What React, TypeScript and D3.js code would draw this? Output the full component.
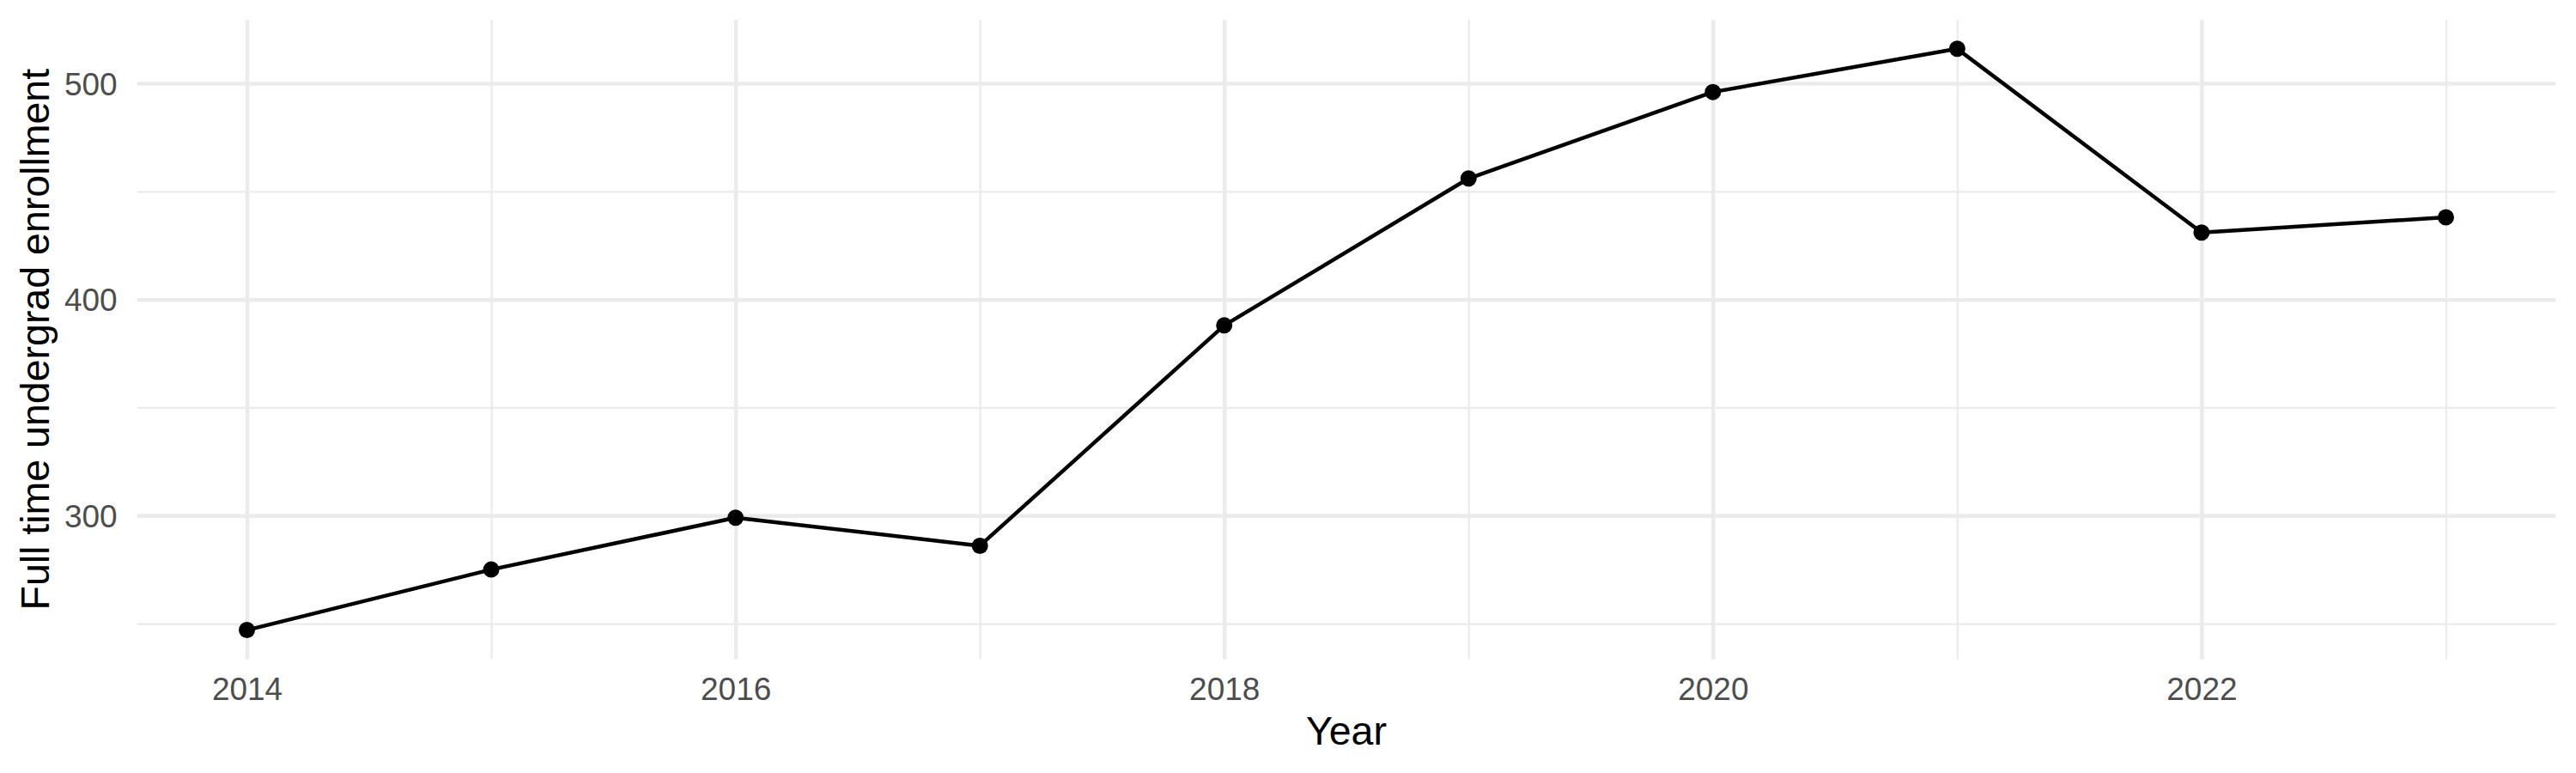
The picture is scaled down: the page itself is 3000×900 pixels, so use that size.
import { useRef, useEffect } from 'react';
import { select, scaleLinear, axisBottom, axisLeft, line, format } from 'd3';

// enrollment by year
const years = [2014, 2015, 2016, 2017, 2018, 2019, 2020, 2021, 2022, 2023];
const enrollment = [247, 275, 299, 286, 388, 456, 496, 516, 431, 438];

const majorYears = [2014, 2016, 2018, 2020, 2022];
const minorYears = [2015, 2017, 2019, 2021, 2023];
const majorY = [300, 400, 500];
const minorY = [250, 350, 450];

const xTitle = 'Year';
const yTitle = 'Full time undergrad enrollment';

export default function App() {
  const svgRef = useRef<SVGSVGElement>(null);

  useEffect(() => {
    if (!svgRef.current) return;
    const svg = select(svgRef.current);
    svg.selectAll('*').remove();

    const width = 3000;
    const height = 900;
    const panel = { left: 159.5, right: 2976.5, top: 23, bottom: 767.4 };
    const innerW = panel.right - panel.left;
    const innerH = panel.bottom - panel.top;
    const font = '"Liberation Sans", Arial, Helvetica, sans-serif';

    svg.attr('width', width).attr('height', height);
    svg.append('rect').attr('width', width).attr('height', height).attr('fill', '#fff');

    // ggplot-style 5% expansion
    const xMin = Math.min(...years), xMax = Math.max(...years);
    const xPad = (xMax - xMin) * 0.05;
    const yMin = Math.min(...enrollment), yMax = Math.max(...enrollment);
    const yPad = (yMax - yMin) * 0.05;

    const x = scaleLinear().domain([xMin - xPad, xMax + xPad]).range([0, innerW]);
    const y = scaleLinear().domain([yMin - yPad, yMax + yPad]).range([innerH, 0]);

    const g = svg.append('g').attr('transform', `translate(${panel.left},${panel.top})`);

    // Grid (minor first, then major)
    const grid = (sel: any, w: number) => {
      sel.select('.domain').remove();
      sel.selectAll('text').remove();
      sel.selectAll('line').attr('stroke', '#EBEBEB').attr('stroke-width', w);
    };
    g.append('g')
      .call(axisLeft(y).tickValues(minorY).tickSize(-innerW).tickFormat(() => '') as any)
      .call(grid, 2.25);
    g.append('g').attr('transform', `translate(0,${innerH})`)
      .call(axisBottom(x).tickValues(minorYears).tickSize(-innerH).tickFormat(() => '') as any)
      .call(grid, 2.25);
    g.append('g')
      .call(axisLeft(y).tickValues(majorY).tickSize(-innerW).tickFormat(() => '') as any)
      .call(grid, 4.5);
    g.append('g').attr('transform', `translate(0,${innerH})`)
      .call(axisBottom(x).tickValues(majorYears).tickSize(-innerH).tickFormat(() => '') as any)
      .call(grid, 4.5);

    // Line + points
    const pts = years.map((yr, i) => ({ yr, v: enrollment[i] }));
    const lineGen = line<{ yr: number; v: number }>().x(d => x(d.yr)).y(d => y(d.v));
    g.append('path').datum(pts).attr('d', lineGen)
      .attr('fill', 'none').attr('stroke', '#000').attr('stroke-width', 4.5)
      .attr('stroke-linejoin', 'round').attr('stroke-linecap', 'butt');
    g.selectAll('.dot').data(pts).join('circle')
      .attr('cx', d => x(d.yr)).attr('cy', d => y(d.v))
      .attr('r', 9.5).attr('fill', '#000');

    // Axis labels
    g.append('g').attr('transform', `translate(0,${innerH})`)
      .call(axisBottom(x).tickValues(majorYears).tickSize(0).tickFormat(format('d') as any) as any)
      .call((s: any) => s.select('.domain').remove())
      .call((s: any) => s.selectAll('text')
        .attr('y', 815 - panel.bottom).attr('dy', 0)
        .attr('fill', '#4D4D4D').style('font-size', '37px').style('font-family', font));

    g.append('g')
      .call(axisLeft(y).tickValues(majorY).tickSize(0).tickFormat(format('d') as any) as any)
      .call((s: any) => s.select('.domain').remove())
      .call((s: any) => s.selectAll('text')
        .attr('x', 136.6 - panel.left).attr('dy', '0.36em')
        .attr('fill', '#4D4D4D').style('font-size', '37px').style('font-family', font));

    // Titles
    svg.append('text').attr('x', panel.left + innerW / 2).attr('y', 867)
      .attr('text-anchor', 'middle').attr('fill', '#000')
      .style('font-size', '46.5px').style('font-family', font).text(xTitle);

    svg.append('text')
      .attr('transform', `translate(56.6,${panel.top + innerH / 2}) rotate(-90)`)
      .attr('text-anchor', 'middle').attr('fill', '#000')
      .style('font-size', '46.5px').style('font-family', font).text(yTitle);
  }, []);

  return (
    <div style={{ position: 'absolute', left: 0, top: 0 }}>
      <svg ref={svgRef} style={{ display: 'block' }} />
    </div>
  );
}
